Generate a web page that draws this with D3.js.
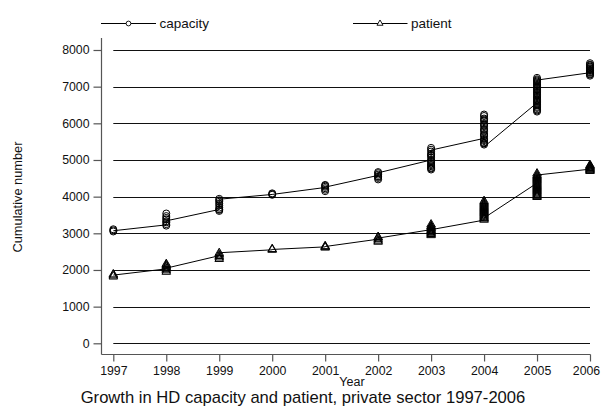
<!DOCTYPE html>
<html>
<head>
<meta charset="utf-8">
<script src="https://cdn.jsdelivr.net/npm/d3@7"></script>
<style>
  body { margin: 0; background: #fff; }
  svg { font-family: "Liberation Sans", Arial, sans-serif; }
</style>
</head>
<body>
<svg id="chart" width="601" height="408"></svg>
<script>
const years = [1997, 1998, 1999, 2000, 2001, 2002, 2003, 2004, 2005, 2006];
const yTicks = [0, 1000, 2000, 3000, 4000, 5000, 6000, 7000, 8000];

// observations per year (many hospitals -> several values per year)
const capacityPoints = [
  [3050, 3080, 3110],
  [3210, 3250, 3300, 3330, 3380, 3420, 3470, 3540],
  [3610, 3640, 3660, 3700, 3760, 3810, 3860, 3900, 3940],
  [4050, 4070, 4090],
  [4150, 4190, 4230, 4270, 4300, 4320],
  [4470, 4510, 4540, 4560, 4600, 4640, 4670],
  [4740, 4770, 4790, 4830, 4860, 4890, 4940, 4970, 5000, 5060, 5110, 5140, 5170, 5230, 5280, 5330],
  [5420, 5450, 5470, 5520, 5550, 5580, 5650, 5680, 5710, 5780, 5820, 5850, 5920, 5960, 5990, 6060, 6100, 6130, 6200, 6240],
  [6320, 6350, 6380, 6420, 6450, 6490, 6520, 6560, 6590, 6620, 6650, 6690, 6720, 6760, 6790, 6830, 6860, 6900, 6930, 6970, 7000, 7040, 7070, 7110, 7140, 7170, 7200, 7240],
  [7300, 7330, 7350, 7380, 7400, 7430, 7450, 7480, 7500, 7530, 7550, 7580, 7600, 7640]
];
const patientPoints = [
  [1820, 1850, 1880],
  [1950, 1990, 2030, 2070, 2100, 2130, 2160],
  [2300, 2340, 2380, 2420, 2460],
  [2550, 2570],
  [2610, 2630, 2650],
  [2770, 2800, 2840, 2880, 2900],
  [2950, 2980, 3000, 3030, 3050, 3080, 3100, 3130, 3150, 3180, 3200, 3240],
  [3370, 3400, 3420, 3450, 3480, 3510, 3540, 3570, 3600, 3630, 3660, 3690, 3720, 3750, 3780, 3810, 3840, 3880],
  [3990, 4020, 4050, 4080, 4110, 4140, 4170, 4200, 4230, 4260, 4290, 4320, 4350, 4380, 4410, 4440, 4470, 4500, 4530, 4560, 4590, 4630],
  [4700, 4720, 4740, 4760, 4780, 4800, 4820, 4840, 4860]
];
// connecting line: value where the line enters / leaves each year's cluster
const capacityIn  = [3070, 3230, 3650, 4060, 4250, 4580, 5000, 5590, 6560, 7380];
const capacityOut = [3070, 3340, 3930, 4060, 4260, 4650, 5270, 5360, 7180, 7380];
const patientIn   = [1860, 2030, 2390, 2550, 2630, 2840, 3100, 3360, 4370, 4750];
const patientOut  = [1860, 2050, 2470, 2560, 2640, 2870, 3100, 3420, 4590, 4750];

const svg = d3.select("#chart");

const x = d3.scaleLinear().domain([1997, 2006]).range([113.3, 590]);
const y = d3.scaleLinear().domain([0, 8000]).range([343.3, 50]);

// gridlines
svg.append("g")
  .selectAll("line")
  .data(yTicks)
  .join("line")
  .attr("x1", x(1997)).attr("x2", x(2006))
  .attr("y1", d => Math.round(y(d)) + 0.5)
  .attr("y2", d => Math.round(y(d)) + 0.5)
  .attr("stroke", "#111")
  .attr("stroke-width", 1);

// y axis
const yAxis = d3.axisLeft(y).tickValues(yTicks).tickSize(8).tickPadding(4).tickFormat(d3.format("d"));
const gy = svg.append("g").attr("transform", "translate(101.5,0)").call(yAxis);
gy.select(".domain").attr("d", "M0,38V354.5");

// x axis
const xAxis = d3.axisBottom(x).tickValues(years).tickSize(7).tickPadding(5).tickFormat(d3.format("d"));
const gx = svg.append("g").attr("transform", "translate(0,354.5)").call(xAxis);
gx.select(".domain").attr("d", "M101.5,0H590.5");
gx.selectAll(".tick text").filter(d => d === 2006).attr("dx", -4);

svg.selectAll(".domain, .tick line").attr("stroke", "#555").attr("stroke-width", 1.2);
svg.selectAll(".tick text").attr("font-size", 12.3).attr("fill", "#111")
  .attr("font-family", "'Liberation Sans', Arial, sans-serif");

// connected lines
function linePts(ins, outs) {
  const pts = [];
  years.forEach((yr, i) => { pts.push([yr, ins[i]]); pts.push([yr, outs[i]]); });
  return pts;
}
const line = d3.line().x(d => x(d[0])).y(d => y(d[1]));

svg.append("path").datum(linePts(capacityIn, capacityOut))
  .attr("d", line).attr("fill", "none").attr("stroke", "#000").attr("stroke-width", 1);
svg.append("path").datum(linePts(patientIn, patientOut))
  .attr("d", line).attr("fill", "none").attr("stroke", "#000").attr("stroke-width", 1);

// markers
const capFlat = capacityPoints.flatMap((vals, i) => vals.map(v => [years[i], v]));
const patFlat = patientPoints.flatMap((vals, i) => vals.map(v => [years[i], v]));

svg.append("g").selectAll("circle")
  .data(capFlat)
  .join("circle")
  .attr("cx", d => x(d[0])).attr("cy", d => y(d[1]))
  .attr("r", 3.5)
  .attr("fill", "none").attr("stroke", "#000").attr("stroke-width", 1);

const tri = d3.symbol().type(d3.symbolTriangle).size(32);
svg.append("g").selectAll("path")
  .data(patFlat)
  .join("path")
  .attr("transform", d => `translate(${x(d[0])},${y(d[1])})`)
  .attr("d", tri)
  .attr("fill", "none").attr("stroke", "#000").attr("stroke-width", 1);

// legend
const legend = [
  { label: "capacity", x0: 101, x1: 156, mx: 128.5, sym: "circle" },
  { label: "patient", x0: 353, x1: 407.5, mx: 380, sym: "triangle" }
];
const lg = svg.append("g").selectAll("g").data(legend).join("g");
lg.append("line")
  .attr("x1", d => d.x0).attr("x2", d => d.x1)
  .attr("y1", 23.5).attr("y2", 23.5)
  .attr("stroke", "#000").attr("stroke-width", 1);
lg.append("path")
  .attr("transform", d => `translate(${d.mx},23.5)`)
  .attr("d", d => d3.symbol().type(d.sym === "circle" ? d3.symbolCircle : d3.symbolTriangle)
    .size(d.sym === "circle" ? 18 : 16)())
  .attr("fill", "#fff").attr("stroke", "#000").attr("stroke-width", 0.9);
lg.append("text")
  .attr("x", d => d.x1 + 3.5).attr("y", 28)
  .attr("font-size", 13.5).attr("fill", "#111")
  .text(d => d.label);

// axis titles
svg.append("text")
  .attr("transform", "translate(22,197) rotate(-90)")
  .attr("text-anchor", "middle")
  .attr("font-size", 12.8).attr("fill", "#111")
  .text("Cumulative number");

svg.append("text")
  .attr("x", 352).attr("y", 386)
  .attr("text-anchor", "middle")
  .attr("font-size", 12.5).attr("fill", "#111")
  .text("Year");

svg.append("text")
  .attr("x", 303).attr("y", 403)
  .attr("text-anchor", "middle")
  .attr("font-size", 16.6).attr("fill", "#111")
  .text("Growth in HD capacity and patient, private sector 1997-2006");
</script>
</body>
</html>
